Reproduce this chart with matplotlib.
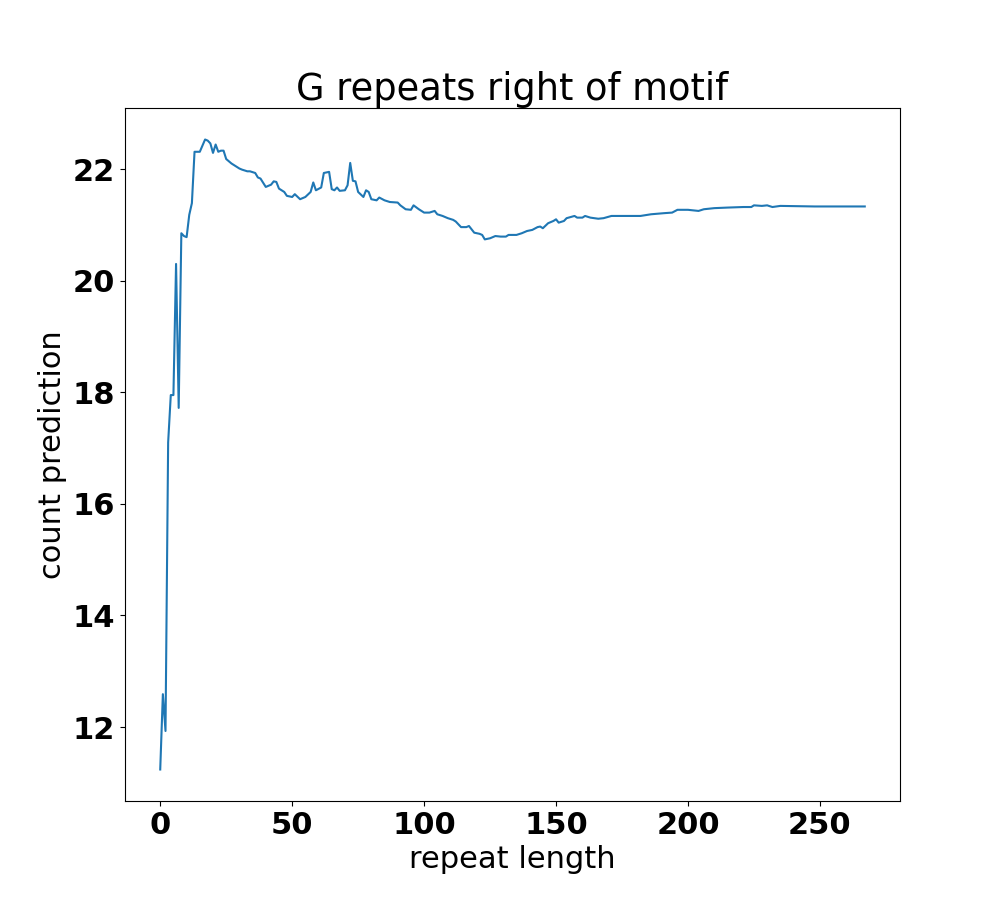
import matplotlib
matplotlib.use("Agg")
import matplotlib.pyplot as plt

# repeat length vs. count prediction
repeat_length = [0, 1, 2, 3, 4, 5, 6, 7, 8, 9, 10, 11, 12, 13, 15, 17, 18, 19, 20,
                 21, 22, 23, 24, 25, 27, 28, 30, 31, 33, 34, 36, 37, 38, 40, 42, 43,
                 44, 45, 47, 48, 50, 51, 53, 55, 57, 58, 59, 61, 62, 64, 65, 66, 67,
                 68, 70, 71, 72, 73, 74, 75, 77, 78, 79, 80, 82, 83, 85, 87, 90, 91,
                 93, 95, 96, 98, 100, 102, 104, 105, 107, 109, 111, 112, 114, 116, 117,
                 119, 121, 122, 123, 125, 127, 129, 131, 132, 135, 137, 139, 141, 143,
                 144, 145, 147, 149, 150, 151, 153, 154, 157, 158, 160, 161, 163, 166,
                 168, 171, 176, 182, 186, 191, 194, 196, 200, 204, 206, 210, 215, 221,
                 224, 225, 228, 230, 232, 235, 248, 267]
count_prediction = [11.24, 12.59, 11.93, 17.10, 17.95, 17.95, 20.30, 17.72, 20.85, 20.80,
                    20.78, 21.18, 21.39, 22.31, 22.31, 22.53, 22.51, 22.46, 22.29,
                    22.44, 22.31, 22.33, 22.33, 22.18, 22.10, 22.07, 22.01, 21.99, 21.96,
                    21.96, 21.93, 21.85, 21.83, 21.68, 21.72, 21.78, 21.77, 21.65, 21.59,
                    21.52, 21.50, 21.55, 21.46, 21.50, 21.59, 21.76, 21.62, 21.67, 21.93,
                    21.95, 21.64, 21.62, 21.67, 21.61, 21.62, 21.71, 22.11, 21.79, 21.78,
                    21.59, 21.50, 21.62, 21.59, 21.46, 21.44, 21.49, 21.44, 21.41, 21.40,
                    21.35, 21.28, 21.27, 21.35, 21.28, 21.22, 21.22, 21.25, 21.19, 21.16,
                    21.12, 21.09, 21.06, 20.96, 20.96, 20.98, 20.86, 20.84, 20.82, 20.74,
                    20.76, 20.80, 20.79, 20.79, 20.82, 20.82, 20.85, 20.89, 20.91, 20.96,
                    20.97, 20.94, 21.03, 21.07, 21.10, 21.04, 21.07, 21.12, 21.16, 21.13,
                    21.13, 21.16, 21.13, 21.11, 21.12, 21.16, 21.16, 21.16, 21.19, 21.21,
                    21.22, 21.27, 21.27, 21.25, 21.28, 21.30, 21.31, 21.32, 21.32, 21.35,
                    21.34, 21.35, 21.32, 21.34, 21.33, 21.33]

fig, ax = plt.subplots(figsize=(10, 9), dpi=100)
ax.plot(repeat_length, count_prediction)

ax.set_title("G repeats right of motif", fontsize=26.5)
ax.set_xlabel("repeat length", fontsize=22)
ax.set_ylabel("count prediction", fontsize=22)
ax.set_xticks([0, 50, 100, 150, 200, 250])
ax.set_yticks([12, 14, 16, 18, 20, 22])
for lbl in ax.get_xticklabels() + ax.get_yticklabels():
    lbl.set_fontsize(22)
    lbl.set_fontweight("bold")

fig.savefig("out.png")
